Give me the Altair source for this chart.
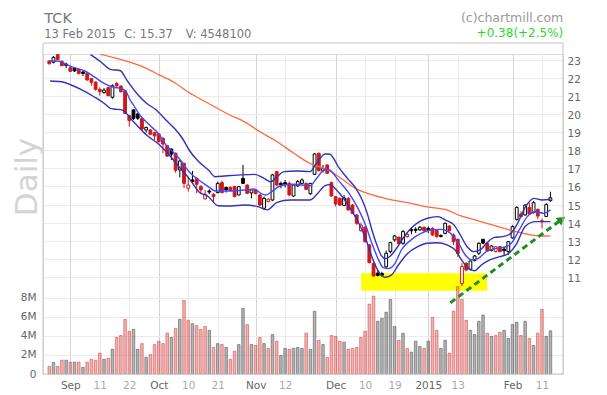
import json
import altair as alt
import pandas as pd

# ---------------- data ----------------
opens = [22.95, 22.88, 23.30, 22.93, 22.78, 22.58, 22.56, 22.49, 22.34, 22.27,
         21.97, 21.78, 21.38, 21.20, 21.47, 20.94, 21.70, 21.56, 21.30, 19.92,
         20.24, 20.02, 19.77, 19.13, 19.13, 18.98, 18.91, 18.67, 18.26, 18.07,
         17.84, 16.91, 17.28, 15.90, 16.36, 16.45, 15.99, 15.31, 15.75, 15.57,
         15.66, 16.21, 15.95, 15.95, 15.99, 15.53, 16.45, 16.08, 15.64, 15.81,
         15.53, 14.79, 15.16, 15.25, 16.82, 16.17, 16.21, 16.17, 15.47, 16.03,
         16.17, 16.17, 15.60, 16.67, 17.84, 16.88, 17.19, 16.21, 15.43, 15.34,
         14.95, 15.34, 14.97, 14.42, 13.55, 13.74, 12.76, 11.74, 11.20, 11.18,
         11.55, 12.39, 13.04, 13.19, 12.85, 13.22, 13.60, 13.63, 13.59, 13.74,
         13.68, 13.68, 13.55, 13.28, 13.40, 13.81, 13.31, 13.07, 10.63, 11.74,
         11.41, 11.89, 12.30, 13.07, 12.85, 12.46, 12.39, 12.66, 12.53, 12.39,
         13.15, 14.18, 14.47, 14.42, 14.84, 14.55, 14.73, 14.10, 14.34, 15.21]
highs = [22.98, 23.22, 23.34, 22.98, 22.86, 22.60, 22.60, 22.52, 22.41, 22.30,
         22.01, 21.82, 21.49, 21.45, 21.53, 21.65, 21.78, 21.60, 21.34, 19.96,
         20.28, 20.05, 19.81, 19.31, 19.17, 19.02, 18.95, 18.72, 18.30, 18.11,
         17.88, 17.47, 17.32, 16.54, 16.86, 16.50, 16.08, 15.81, 15.84, 15.62,
         16.27, 16.32, 15.99, 15.99, 16.03, 16.03, 17.19, 16.12, 15.84, 15.85,
         15.57, 15.44, 15.34, 16.70, 16.86, 16.27, 16.36, 16.27, 16.12, 16.36,
         16.45, 16.21, 16.20, 17.84, 17.87, 17.19, 17.23, 16.27, 15.47, 15.40,
         15.53, 15.40, 15.03, 14.47, 13.99, 13.81, 12.81, 11.78, 11.35, 11.27,
         12.45, 12.94, 13.31, 13.22, 13.59, 13.40, 13.68, 13.74, 13.81, 13.78,
         13.78, 13.74, 13.60, 13.35, 14.00, 13.85, 13.40, 13.10, 11.74, 11.80,
         11.90, 12.20, 12.90, 13.10, 12.90, 12.75, 12.70, 12.70, 12.66, 12.98,
         13.85, 14.90, 14.62, 15.02, 15.10, 15.20, 14.78, 14.23, 15.08, 15.71]
lows = [22.75, 22.82, 23.00, 22.67, 22.55, 22.34, 22.34, 22.21, 22.12, 21.86,
        21.58, 21.31, 21.03, 21.14, 21.00, 20.86, 21.52, 21.21, 20.02, 19.31,
        19.68, 19.68, 19.13, 18.98, 18.84, 18.58, 18.43, 17.84, 17.65, 17.47,
        16.76, 16.50, 15.90, 15.72, 16.21, 15.62, 15.57, 15.29, 15.57, 15.16,
        15.62, 15.62, 15.66, 15.73, 15.40, 15.50, 16.14, 15.60, 15.34, 15.57,
        14.92, 14.70, 15.12, 15.20, 16.03, 15.90, 15.95, 15.47, 15.44, 15.99,
        16.12, 15.80, 15.53, 16.63, 16.82, 16.77, 16.69, 15.43, 14.88, 14.92,
        14.90, 14.66, 14.47, 13.87, 13.50, 12.89, 11.74, 11.00, 11.02, 11.00,
        11.47, 12.30, 12.94, 12.77, 12.77, 13.17, 13.35, 13.42, 13.55, 13.50,
        13.42, 13.26, 13.17, 13.17, 13.35, 13.50, 12.75, 12.10, 10.48, 11.30,
        11.35, 11.85, 12.20, 12.80, 12.40, 12.40, 12.35, 12.35, 12.20, 12.20,
        13.10, 14.10, 14.30, 14.38, 14.42, 14.50, 14.18, 13.67, 14.30, 15.16]
closes = [22.80, 23.15, 23.04, 22.69, 22.71, 22.38, 22.40, 22.25, 22.26, 21.90,
          21.77, 21.38, 21.25, 21.34, 21.03, 21.58, 21.57, 21.25, 20.05, 19.65,
          19.77, 19.78, 19.18, 19.27, 18.89, 18.80, 18.48, 18.35, 17.68, 17.79,
          16.90, 17.41, 16.17, 16.08, 16.27, 16.12, 15.81, 15.57, 15.69, 15.44,
          16.17, 15.66, 15.81, 15.77, 15.44, 15.99, 16.17, 15.62, 15.81, 15.60,
          14.97, 15.34, 15.30, 16.64, 16.08, 16.10, 16.12, 15.53, 16.08, 16.27,
          16.36, 15.84, 16.17, 17.80, 16.88, 17.00, 16.73, 15.47, 15.03, 14.97,
          15.36, 14.70, 14.51, 13.96, 13.86, 12.94, 11.78, 11.04, 11.07, 11.08,
          12.30, 12.89, 13.26, 12.83, 13.50, 13.35, 13.55, 13.57, 13.74, 13.55,
          13.58, 13.31, 13.22, 13.23, 13.96, 13.55, 12.94, 12.29, 11.56, 11.37,
          11.87, 12.15, 12.85, 12.86, 12.44, 12.70, 12.66, 12.39, 12.44, 12.94,
          13.77, 14.84, 14.33, 14.97, 14.47, 15.10, 14.36, 14.05, 14.99, 15.37]
# r = red (down vs previous close), k = black
candle_col = ("rkrrkrkrkr" "rrrkrkrrrr" "kkrkrrrrrk" "rkrrkrrrkr" "krkrrkkrkr"
              "rkrkrkkrkk" "krkkrkrrrr" "krrrrrrrkk" "kkkrkrkkkr" "krrkkrrrrr"
              "kkkkrkrrkk" "kkrkrkrrkk")
volume_m = [0.80, 1.20, 0.80, 1.45, 1.45, 1.25, 1.25, 1.25, 0.70, 1.25,
            1.55, 1.45, 2.20, 1.55, 1.65, 2.60, 3.85, 4.05, 5.75, 4.50,
            4.70, 2.60, 3.20, 1.75, 2.05, 3.10, 3.45, 3.20, 4.30, 3.85,
            4.80, 5.75, 7.75, 5.65, 5.30, 5.10, 4.70, 5.00, 4.60, 2.80,
            3.20, 3.10, 2.80, 1.55, 2.40, 3.10, 6.90, 5.20, 3.10, 3.00,
            3.85, 3.20, 2.70, 4.15, 3.45, 1.95, 2.70, 2.60, 2.70, 2.80,
            2.70, 4.30, 2.60, 6.60, 3.55, 3.10, 1.75, 4.05, 3.95, 3.45,
            3.35, 2.60, 2.70, 2.80, 3.85, 4.50, 7.35, 8.20, 5.55, 5.85,
            6.50, 7.85, 5.00, 3.55, 4.30, 2.70, 2.30, 3.45, 2.90, 2.70,
            3.45, 5.95, 4.60, 2.70, 3.55, 2.20, 6.60, 9.20, 7.85, 5.65,
            4.60, 4.15, 5.55, 6.20, 4.30, 3.95, 4.05, 4.40, 4.60, 3.75,
            5.20, 5.45, 4.05, 5.55, 3.75, 3.00, 4.30, 6.80, 3.95, 4.5481]

upper_i = [9.8, 12.2, 14.5, 16.9, 18.4, 21.1, 23.1, 25.4, 27.7, 29.7, 31.6, 33.2, 35.5, 37.8, 39.4,
           41.7, 44.8, 48.7, 51.0, 52.6, 54.1, 55.7, 58.8, 61.9, 63.5, 65.5, 66.5, 68.9, 70.8, 72.8,
           74.3, 75.5, 76.6, 77.8, 78.9, 79.8, 81.0, 82.4, 84.0, 85.9, 87.9, 89.8, 92.2, 94.1, 96.1,
           97.6, 99.2, 100.7, 102.3, 103.8, 105.7, 107.7, 109.6, 111.2, 113.1, 115.1, 117.0, 119.0]
upper_p = [23.30, 22.91, 22.49, 22.41, 21.90, 21.07, 20.61, 20.24, 19.68, 19.22, 18.67, 18.02, 17.37, 16.91, 16.54,
           16.58, 16.63, 16.67, 16.45, 16.26, 16.54, 16.82, 16.86, 16.82, 17.30, 17.80, 17.80, 17.00, 16.45, 15.90,
           15.25, 14.51, 13.60, 12.75, 12.15, 12.00, 12.15, 12.55, 13.13, 13.68, 14.05, 14.24, 14.33, 14.14, 13.87,
           13.31, 12.67, 12.39, 12.48, 12.85, 13.18, 13.22, 13.40, 13.96, 14.88, 15.34, 15.25, 15.29]
mid_i = [0, 2.0, 3.9, 5.9, 8.3, 10.6, 13.0, 15.3, 16.9, 18.1, 19.2, 20.0, 21.5, 23.8, 26.2, 27.7, 29.3,
         30.8, 33.2, 35.5, 37.8, 39.4, 42.5, 46.3, 48.7, 50.2, 51.4, 53.3, 54.9, 58.0, 61.9, 63.5, 65.5,
         66.5, 68.9, 71.2, 73.5, 75.1, 76.6, 78.2, 79.3, 80.5, 82.1, 83.6, 85.9, 88.3, 90.6, 92.9, 95.3,
         97.2, 98.8, 100.3, 101.9, 103.8, 106.2, 108.5, 110.0, 111.6, 113.5, 115.5, 117.4, 119.0]
mid_p = [22.95, 22.95, 22.78, 22.58, 22.41, 22.08, 21.71, 21.49, 21.44, 21.30, 20.79, 20.51, 19.96, 19.40, 18.85, 18.30, 17.93,
         17.56, 16.82, 16.36, 15.99, 15.75, 15.75, 15.80, 15.86, 15.62, 15.53, 15.80, 16.04, 16.12, 16.04, 16.45, 16.95,
         16.91, 16.27, 15.62, 14.70, 13.86, 12.85, 11.93, 11.50, 11.45, 11.74, 12.48, 13.04, 13.40, 13.59, 13.62, 13.40,
         12.85, 12.20, 11.93, 12.02, 12.39, 12.57, 12.66, 12.94, 13.59, 14.33, 14.60, 14.51, 14.70]
low_i = [0.2, 2.9, 5.2, 7.5, 10.6, 13.0, 14.5, 15.3, 17.2, 20.0, 23.1, 26.2, 28.5, 30.8, 33.2, 35.5,
         37.8, 40.1, 43.2, 46.3, 49.5, 51.8, 54.1, 57.2, 61.9, 63.5, 65.5, 66.5, 68.9, 71.2, 73.5, 75.1,
         76.6, 78.2, 79.8, 81.3, 82.9, 85.1, 87.5, 89.8, 92.2, 94.4, 96.4, 97.9, 99.5, 101.0, 102.6,
         104.6, 106.9, 108.9, 110.8, 113.1, 115.5, 117.8, 119.0]
low_p = [21.84, 21.80, 21.62, 21.38, 20.97, 20.61, 20.33, 20.29, 20.24, 19.59, 18.85, 18.30, 17.74, 17.09, 16.45, 15.71,
         15.43, 14.93, 14.92, 14.97, 14.88, 14.70, 15.12, 15.25, 15.25, 15.55, 16.05, 16.10, 15.62, 14.88, 13.96, 13.13,
         12.11, 11.28, 10.97, 11.10, 11.65, 12.29, 12.66, 12.85, 12.88, 12.76, 12.48, 11.93, 11.46, 11.33, 11.65,
         11.93, 12.11, 12.26, 12.76, 13.81, 14.05, 14.05, 14.05]
ma_i = [12.0, 16.9, 22.3, 26.2, 30.0, 33.2, 34.7, 38.6, 42.5, 46.3, 50.2, 54.1, 58.0, 61.9, 64.2,
        66.5, 69.6, 72.8, 75.8, 80.5, 85.1, 89.8, 94.4, 97.6, 101.5, 105.4, 109.2, 113.1, 116.1, 119.0]
ma_p = [23.33, 23.04, 22.63, 22.17, 21.72, 21.20, 21.00, 20.50, 20.00, 19.59, 19.00, 18.48, 17.85, 17.28, 17.09,
        16.87, 16.40, 15.88, 15.60, 15.30, 15.10, 14.87, 14.70, 14.38, 14.12, 13.86, 13.60, 13.38, 13.27, 13.25]

box_x = [74.06, 103.96]
box_p = [10.22, 11.19]
trend_x = [95.25, 121.7]
trend_p = [9.56, 14.18]

tick_idx = [5, 12, 19, 26, 33, 40, 49, 56, 68, 75, 82, 90, 97, 110, 117]
tick_lbl = ["Sep", "11", "22", "Oct", "10", "21", "Nov", "12", "Dec", "10", "19", "2015", "13", "Feb", "11"]
month_idx = [5, 26, 49, 68, 90, 110]
price_ticks = list(range(11, 24))
vol_ticks = [0, 2e6, 4e6, 6e6, 8e6]

title_txt = "TCK"
date_txt = "13 Feb 2015"
close_txt = "C: 15.37"
vol_txt = "V: 4548100"
credit_txt = "(c)chartmill.com"
change_txt = "+0.38(+2.5%)"
period_txt = "Daily"

# ---------------- chart ----------------
FONT = "DejaVu Sans"
RED = "#d01818"
GREEN = "#1f8f1f"
W, H = 520, 320

df = pd.DataFrame({
    "i": list(range(len(closes))), "o": opens, "h": highs, "l": lows, "c": closes,
    "col": list(candle_col), "vol": [v * 1e6 for v in volume_m],
})
df["body"] = [("h" if c > o else "f") + k for o, c, k in zip(opens, closes, candle_col)]

xs = alt.Scale(domain=[-0.303, 120.8], nice=False, zero=False)
ps = alt.Scale(domain=[5.61, 23.338], nice=False, zero=False)
vs = alt.Scale(domain=[0, 33.68e6], nice=False)

mon_test = f"indexof({json.dumps(month_idx)}, datum.value) >= 0"
x_axis = alt.Axis(
    values=tick_idx,
    labelExpr=f"{json.dumps(tick_lbl)}[indexof({json.dumps(tick_idx)}, datum.value)]",
    title=None, grid=True, ticks=False, domain=False,
    gridColor={"condition": {"test": mon_test, "value": "#d4d4d4"}, "value": "#ebebeb"},
    labelColor={"condition": {"test": mon_test, "value": "#666666"}, "value": "#aaaaaa"},
    labelFontSize=10.5, labelFont=FONT, labelPadding=6, labelFlush=False, labelOverlap=False,
)
price_axis = alt.Axis(
    orient="right", values=price_ticks, title=None, grid=True, gridColor="#ebebeb",
    ticks=False, domain=False, labelFontSize=10.5, labelFont=FONT, labelColor="#666666",
    labelPadding=4, labelFlush=False, labelOverlap=False, labelOffset=1.5,
)
vol_axis = alt.Axis(
    orient="left", values=vol_ticks, title=None, grid=True, gridColor="#ebebeb",
    ticks=False, domain=False, labelFontSize=10.5, labelFont=FONT, labelColor="#666666",
    labelPadding=7, labelFlush=False, labelOverlap=False,
    labelExpr="datum.value == 0 ? '0' : format(datum.value / 1e6, 'd') + 'M'",
)

X = lambda f: alt.X(f, scale=xs, axis=x_axis)
PY = lambda f: alt.Y(f, scale=ps, axis=price_axis)

# yellow highlight box (below volume)
box_df = pd.DataFrame({"x0": [box_x[0]], "x1": [box_x[1]], "y0": [box_p[0]], "y1": [box_p[1]]})
yellow = alt.Chart(box_df).mark_rect(color="#ffff00").encode(
    x=X("x0:Q"), x2="x1:Q", y=alt.Y("y0:Q", scale=ps, axis=None), y2="y1:Q")

vol = alt.Chart(df).mark_bar(size=2.6, strokeWidth=0.8, fillOpacity=0.36, strokeOpacity=0.6).encode(
    x=X("i:Q"),
    y=alt.Y("vol:Q", scale=vs, axis=vol_axis),
    fill=alt.Fill("col:N", scale=alt.Scale(domain=["r", "k"], range=["#e02828", "#303030"]), legend=None),
    stroke=alt.Stroke("col:N", scale=alt.Scale(domain=["r", "k"], range=["#c83030", "#404040"]), legend=None),
)

wicks = alt.Chart(df).mark_rule(strokeWidth=1).encode(
    x=X("i:Q"), y=PY("h:Q"), y2="l:Q",
    color=alt.Color("col:N", scale=alt.Scale(domain=["r", "k"], range=[RED, "#000000"]), legend=None),
)
bodies = alt.Chart(df).mark_bar(size=2.8, strokeWidth=1).encode(
    x=X("i:Q"), y=PY("o:Q"), y2="c:Q",
    fill=alt.Fill("body:N", scale=alt.Scale(domain=["fr", "fk", "hr", "hk"],
                                            range=[RED, "#000000", "#ffffff", "#ffffff"]), legend=None),
    stroke=alt.Stroke("col:N", scale=alt.Scale(domain=["r", "k"], range=[RED, "#000000"]), legend=None),
)


def pline(xv, yv, color, width=1.3, **kw):
    d = pd.DataFrame({"i": xv, "p": yv})
    return alt.Chart(d).mark_line(color=color, strokeWidth=width, **kw).encode(x=X("i:Q"), y=PY("p:Q"))


upper = pline(upper_i, upper_p, "#3030b8", 1.4, interpolate="monotone", clip=True)
middle = pline(mid_i, mid_p, "#4646ff", 1.4, interpolate="monotone", clip=True)
lower = pline(low_i, low_p, "#3030b8", 1.4, interpolate="monotone", clip=True)
ma = pline(ma_i, ma_p, "#ff6a3d", 1.3, interpolate="monotone", clip=True)
trend = pline(trend_x, trend_p, GREEN, 3, strokeDash=[6, 4])
arrow = alt.Chart(pd.DataFrame({"i": [trend_x[-1]], "p": [trend_p[-1]]})).mark_point(
    shape="triangle-right", filled=True, size=90, angle=323.7, color=GREEN, opacity=1
).encode(x=X("i:Q"), y=PY("p:Q"))


def txt(s, x, y, size, color, align="left", angle=0, baseline="alphabetic"):
    return alt.Chart(pd.DataFrame({"t": [s]})).mark_text(
        align=align, baseline=baseline, fontSize=size, color=color, font=FONT, angle=angle
    ).encode(x=alt.value(x), y=alt.value(y), text="t:N")


frame = alt.Chart(pd.DataFrame({"a": [0]})).mark_rect(
    fill="transparent", stroke="#c4c4c4", strokeWidth=1
).encode(x=alt.value(0), x2=alt.value(W), y=alt.value(-11), y2=alt.value(H))

texts = [
    txt(title_txt, 1.3, -31.3, 14.5, "#777777"),
    txt(date_txt, 1.3, -16.3, 11.5, "#777777"),
    txt(close_txt, 81.3, -16.3, 11.5, "#777777"),
    txt(vol_txt, 142.7, -16.3, 11.5, "#777777"),
    txt(credit_txt, 520.3, -32.5, 12.5, "#999999", align="right"),
    txt(change_txt, 520.3, -16.8, 12, "#2fd62f", align="right"),
    txt(period_txt, -15, 123, 31, "#d4d4d4", align="center", angle=270, baseline="middle"),
]

price = alt.layer(wicks, bodies, ma, upper, lower, middle, trend, arrow, frame, *texts)

chart = alt.layer(yellow, vol, price).resolve_scale(
    y="independent", fill="independent", stroke="independent"
).properties(
    width=W, height=H,
    autosize=alt.AutoSizeParams(type="none"),
    padding={"left": 35, "top": 46, "right": 36, "bottom": 19},
    background="#ffffff",
).configure_view(stroke=None).configure(font=FONT)

chart.save("out.html", embed_options={"renderer": "svg", "actions": False})
